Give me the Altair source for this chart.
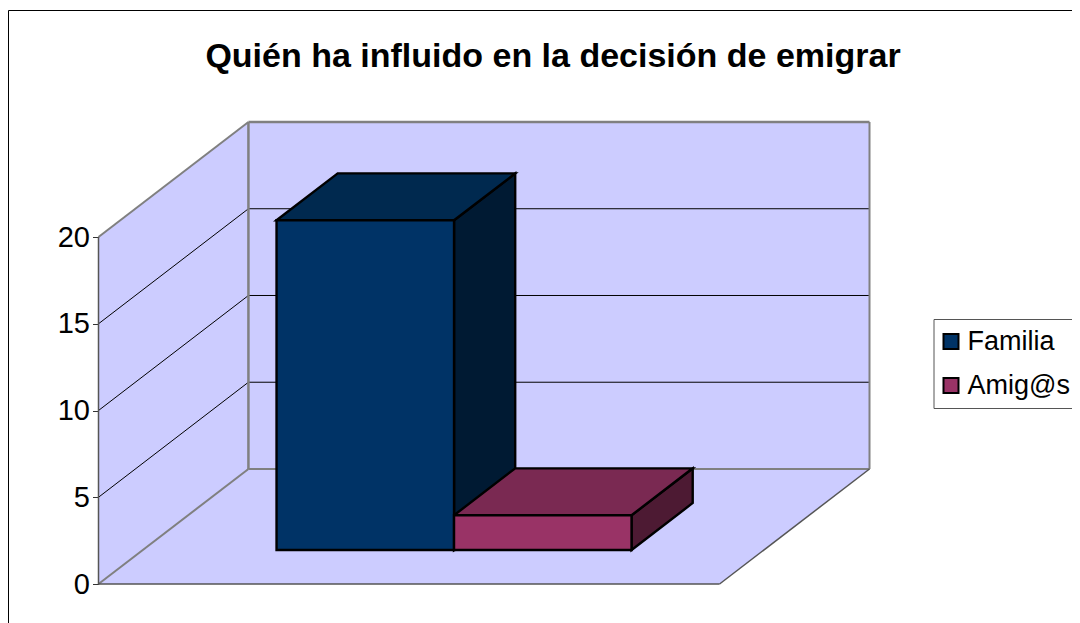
import altair as alt
import pandas as pd

TITLE = "Quién ha influido en la decisión de emigrar"
SERIES = ["Familia", "Amig@s"]
VALUES = [19, 2]
Y_TICKS = [0, 5, 10, 15, 20]
GRID_VALUES = [5, 10, 15]
FRONT = ["#003366", "#993366"]
TOP = ["#00294F", "#7A2952"]
SIDE = ["#001A33", "#4D1A33"]
WALL = "#CCCCFF"
FONT = "Liberation Sans"

# oblique projection of (u along floor, v value, d depth)
DX, DY = 0.2414, 6.63
YMAX = 20
BAR_W = 0.2858
BAR_MID = 0.501
D0, D1 = 0.296, 0.704
XDOM = [0, 1 + DX]
YDOM = [0, YMAX + DY]
xs = alt.Scale(domain=XDOM, nice=False, zero=False)
ys = alt.Scale(domain=YDOM, nice=False, zero=False)
y_axis = alt.Axis(
    values=Y_TICKS, title=None, domain=False, grid=False, ticks=True,
    tickSize=6, tickColor="#333333", tickWidth=1,
    labelFontSize=29, labelFont=FONT, labelColor="#000000", labelPadding=3,
)


def P(u, v, d):
    return (u + d * DX, v + d * DY)


def hull(corners):
    """Upper and lower envelope of a convex polygon, for an area mark."""
    n = len(corners)
    rows = []
    for x in sorted({c[0] for c in corners}):
        vals = []
        for i in range(n):
            a, b = corners[i], corners[(i + 1) % n]
            lo, hi = min(a[0], b[0]), max(a[0], b[0])
            if lo - 1e-9 <= x <= hi + 1e-9:
                if abs(b[0] - a[0]) < 1e-9:
                    vals += [a[1], b[1]]
                else:
                    vals.append(a[1] + (b[1] - a[1]) * (x - a[0]) / (b[0] - a[0]))
        rows.append({"x": x, "y": max(vals), "y2": min(vals)})
    return pd.DataFrame(rows)


def face(corners, fill, stroke=None, sw=2.4):
    kw = dict(fill=fill, opacity=1)
    if stroke:
        kw.update(stroke=stroke, strokeWidth=sw, strokeJoin="miter")
    else:
        kw.update(strokeWidth=0)
    return alt.Chart(hull(corners)).mark_area(**kw).encode(
        x=alt.X("x:Q", scale=xs, axis=None),
        y=alt.Y("y:Q", scale=ys, axis=y_axis, stack=None),
        y2="y2:Q",
    )


def line(a, b, color, sw):
    return alt.Chart(pd.DataFrame([{"x": a[0], "y": a[1], "x2": b[0], "y2": b[1]}])).mark_rule(
        color=color, strokeWidth=sw
    ).encode(
        x=alt.X("x:Q", scale=xs, axis=None),
        y=alt.Y("y:Q", scale=ys, axis=y_axis),
        x2="x2:Q",
        y2="y2:Q",
    )


layers = []
# walls and floor
layers.append(face([P(0, 0, 1), P(1, 0, 1), P(1, YMAX, 1), P(0, YMAX, 1)], WALL))
layers.append(face([P(0, 0, 0), P(0, 0, 1), P(0, YMAX, 1), P(0, YMAX, 0)], WALL))
layers.append(face([P(0, 0, 0), P(1, 0, 0), P(1, 0, 1), P(0, 0, 1)], WALL))

# grid lines
for g in GRID_VALUES:
    layers.append(line(P(0, g, 0), P(0, g, 1), "#000000", 1))
    layers.append(line(P(0, g, 1), P(1, g, 1), "#000000", 1))

# frame
GREY = "#808080"
DARK = "#555555"
layers.append(line(P(0, YMAX, 0), P(0, YMAX, 1), GREY, 2))
layers.append(line(P(0, 0, 1), P(0, YMAX, 1), GREY, 2.5))
layers.append(line(P(0, YMAX, 1), P(1, YMAX, 1), GREY, 2.5))
layers.append(line(P(1, 0, 1), P(1, YMAX, 1), GREY, 2))
layers.append(line(P(0, 0, 1), P(1, 0, 1), GREY, 2))
layers.append(line(P(0, 0, 0), P(0, 0, 1), GREY, 2))
layers.append(line(P(1, 0, 0), P(1, 0, 1), DARK, 1.5))
layers.append(line(P(0, 0, 0), P(1, 0, 0), DARK, 1.5))
layers.append(line(P(0, 0, 0), P(0, YMAX, 0), DARK, 1.5))

# bars
bar_rows = []
for i, (name, val) in enumerate(zip(SERIES, VALUES)):
    u0 = BAR_MID - BAR_W + i * BAR_W
    u1 = u0 + BAR_W
    layers.append(face([P(u1, 0, D0), P(u1, 0, D1), P(u1, val, D1), P(u1, val, D0)], SIDE[i], "#000000"))
    layers.append(face([P(u0, val, D0), P(u1, val, D0), P(u1, val, D1), P(u0, val, D1)], TOP[i], "#000000"))
    a = P(u0, 0, D0)
    b = P(u1, val, D0)
    bar_rows.append({"serie": name, "x": a[0], "x2": b[0], "y": a[1], "y2": b[1]})

layers.append(
    alt.Chart(pd.DataFrame(bar_rows)).mark_rect(stroke="#000000", strokeWidth=2.4, opacity=1).encode(
        x=alt.X("x:Q", scale=xs, axis=None),
        x2="x2:Q",
        y=alt.Y("y:Q", scale=ys, axis=y_axis),
        y2="y2:Q",
        fill=alt.Fill(
            "serie:N",
            scale=alt.Scale(domain=SERIES, range=FRONT),
            legend=alt.Legend(
                title=None, orient="none", legendX=835, legendY=197,
                symbolType="square", symbolSize=225, symbolStrokeColor="#000000",
                symbolStrokeWidth=2, symbolOpacity=1, symbolOffset=-5,
                labelFontSize=27, labelFont=FONT, labelColor="#000000",
                labelOffset=3, rowPadding=16,
                strokeColor="#555555", padding=9, labelLimit=200,
            ),
        ),
    )
)

# chart border
layers.append(alt.Chart(pd.DataFrame({"a": [0]})).mark_rule(color="#000000", strokeWidth=1).encode(
    x=alt.value(-90), x2=alt.value(990), y=alt.value(-111.5)))
layers.append(alt.Chart(pd.DataFrame({"a": [0]})).mark_rule(color="#000000", strokeWidth=1).encode(
    x=alt.value(-90), y=alt.value(-111.5), y2=alt.value(510)))

# chart title
layers.append(alt.Chart(pd.DataFrame({"t": [TITLE]})).mark_text(
    font=FONT, fontSize=34, fontWeight="bold", color="#000000", align="center", baseline="alphabetic"
).encode(text="t:N", x=alt.value(454.5), y=alt.value(-55.5)))

chart = alt.layer(*layers).properties(
    width=771,
    height=462,
    padding={"left": 90.5, "top": 114, "right": 202.5, "bottom": 39},
    autosize=alt.AutoSizeParams(type="none"),
    background="#ffffff",
).resolve_scale(x="shared", y="shared").configure_view(strokeWidth=0)

chart.save("out.html", embed_options={"renderer": "svg", "actions": False})
